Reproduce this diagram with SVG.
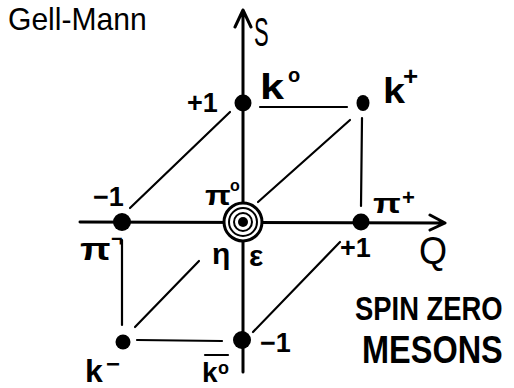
<svg xmlns="http://www.w3.org/2000/svg" width="514" height="388" viewBox="0 0 514 388">
<style>
.ln{stroke:#000;stroke-width:2.2;fill:none;stroke-linecap:round;stroke-linejoin:round}
.ax{stroke:#000;stroke-width:3;fill:none;stroke-linecap:round;stroke-linejoin:round}
.t{font-family:"Liberation Sans",Arial,sans-serif;font-weight:bold;fill:#000}
.h{font-family:"Liberation Sans",Arial,sans-serif;fill:#000}
</style>
<rect width="514" height="388" fill="#fff"/>
<g id="connectors">
  <path class="ax" d="M243,372 L243,10 M235,27 L243,10 L251,27"/>
  <path class="ax" d="M80,222 L445,223 M430,215 L445,223 L430,230"/>
  <path class="ln" d="M260,107 L347,107"/>
  <path class="ln" d="M362,118 L361,206"/>
  <path class="ln" d="M122,240 L122,325"/>
  <path class="ln" d="M137,340 L222,341"/>
  <path class="ln" d="M130,208 L230,112"/>
  <path class="ln" d="M258,202 L350,120"/>
  <path class="ln" d="M135,327 L199,261"/>
  <path class="ln" d="M253,332 L340,242"/>
</g>
<g id="title"><text class="h" transform="translate(8,30) scale(0.94,1)" font-size="32">Gell-Mann</text></g>
<g id="axis-S"><text class="h" transform="translate(254,46) scale(0.55,1)" font-size="40">S</text></g>
<g id="axis-Q"><text class="h" transform="translate(419,264) scale(0.95,1)" font-size="38">Q</text></g>
<g id="K0">
  <circle cx="243" cy="103" r="8.5"/>
  <text class="t" x="187" y="112" font-size="27">+1</text>
  <text class="t" transform="translate(260,99) scale(1.2,1)" font-size="36">k</text>
  <text class="t" x="288" y="82" font-size="20">o</text>
</g>
<g id="Kplus">
  <ellipse cx="363" cy="103" rx="6.5" ry="8"/>
  <text class="t" transform="translate(383,103) scale(1.1,1)" font-size="36">k</text>
  <text class="t" x="403" y="85" font-size="26">+</text>
</g>
<g id="piminus">
  <circle cx="122" cy="222" r="9"/>
  <text class="t" x="93" y="206" font-size="27">−1</text>
  <text class="t" transform="translate(80,260) scale(1.25,1)" font-size="32">π</text>
  <text class="t" x="111" y="246" font-size="20">¬</text>
</g>
<g id="center">
  <circle cx="243" cy="222" r="19" fill="#fff" stroke="#000" stroke-width="3"/>
  <circle cx="243" cy="222" r="14" fill="none" stroke="#000" stroke-width="2"/>
  <circle cx="243" cy="222" r="9" fill="none" stroke="#000" stroke-width="2"/>
  <circle cx="243" cy="222" r="5"/>
  <text class="t" transform="translate(205,205) scale(1.2,1)" font-size="28">π</text>
  <text class="t" x="230" y="191" font-size="16">o</text>
  <text class="t" x="212" y="264" font-size="30">η</text>
  <text class="t" x="249" y="266" font-size="30">ε</text>
</g>
<g id="piplus">
  <circle cx="361" cy="222" r="8.5"/>
  <text class="t" transform="translate(373,213) scale(1.3,1)" font-size="28">π</text>
  <text class="t" x="402" y="205" font-size="22">+</text>
  <text class="t" x="340" y="257" font-size="27">+1</text>
</g>
<g id="Kminus">
  <circle cx="123" cy="342" r="7.5"/>
  <text class="t" x="85" y="382" font-size="32">k</text>
  <text class="t" x="106" y="372" font-size="24">−</text>
</g>
<g id="K0bar">
  <circle cx="242" cy="340" r="9"/>
  <text class="t" x="260" y="352" font-size="27">−1</text>
  <path class="ln" stroke-width="3" d="M205,355 L228,355"/>
  <text class="t" x="202" y="382" font-size="28">k</text>
  <text class="t" x="218" y="374" font-size="18">o</text>
</g>
<g id="caption">
  <text class="t" transform="translate(355,320) scale(0.83,1)" font-size="33">SPIN ZERO</text>
  <text class="t" transform="translate(362,363) scale(0.855,1)" font-size="38">MESONS</text>
</g>
</svg>
